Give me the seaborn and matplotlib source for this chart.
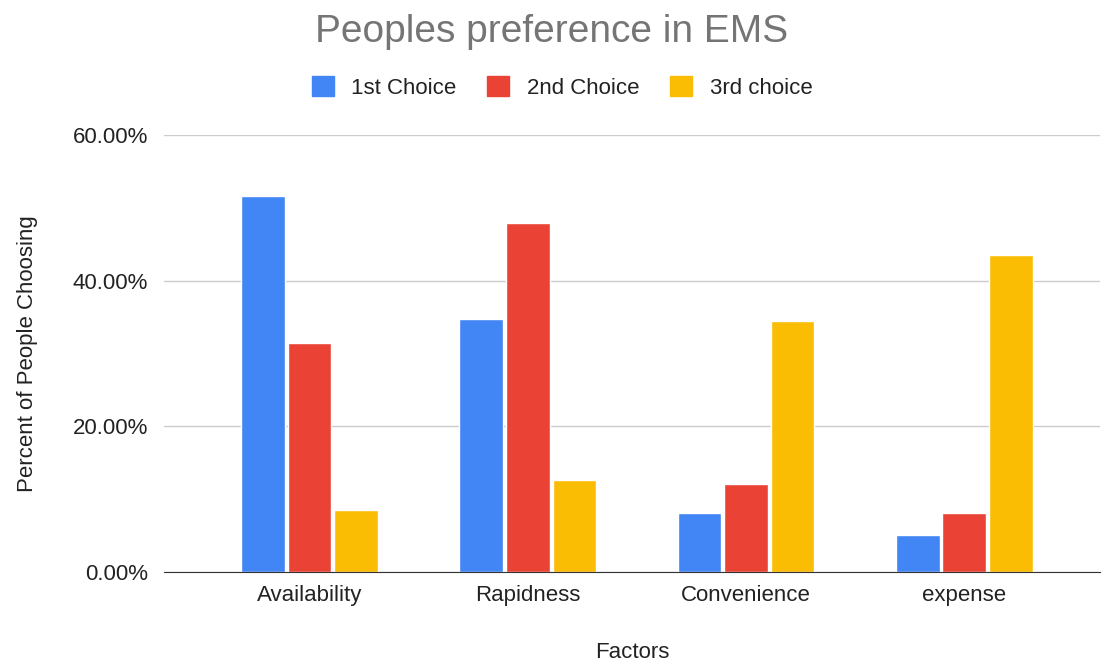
import pandas as pd
import seaborn as sns
import matplotlib.pyplot as plt
from matplotlib.ticker import FuncFormatter

factors = ['Availability', 'Rapidness', 'Convenience', 'expense']
series_names = ['1st Choice', '2nd Choice', '3rd choice']
first_choice = [51.6, 34.7, 8.1, 5.1]
second_choice = [31.4, 47.9, 12.1, 8.1]
third_choice = [8.5, 12.6, 34.5, 43.5]
colors = ['#4285F4', '#EA4335', '#FBBC04']

df = pd.DataFrame({
    'Factor': factors * 3,
    'Series': [s for s in series_names for _ in factors],
    'Value': first_choice + second_choice + third_choice,
})

sns.set_style('white')
plt.rcParams['font.family'] = ['Liberation Sans', 'DejaVu Sans']

fig = plt.figure(figsize=(11.04, 6.67), dpi=100)
ax = fig.add_axes([0.149, 0.142, 0.847, 0.656])
sns.barplot(data=df, x='Factor', y='Value', hue='Series', palette=colors,
            width=0.64, gap=0.06, ax=ax, legend=False, saturation=1)

ax.set_ylim(0, 60)
ax.set_xlim(-0.665, 3.62)
ax.set_yticks([0, 20, 40, 60])
ax.yaxis.set_major_formatter(FuncFormatter(lambda v, p: f'{v:.2f}%'))
ax.grid(axis='y', color='#cccccc', linewidth=1)
ax.set_axisbelow(True)
for s in ['top', 'right', 'left']:
    ax.spines[s].set_visible(False)
ax.spines['bottom'].set_color('#333333')
ax.tick_params(axis='both', length=0, labelsize=16, colors='#222222')
ax.tick_params(axis='x', pad=9)
ax.tick_params(axis='y', pad=12)
ax.set_xlabel('Factors', fontsize=16, color='#222222', labelpad=26)
ax.set_ylabel('Percent of People Choosing', fontsize=16, color='#222222', labelpad=25)

fig.text(0.5, 0.952, 'Peoples preference in EMS', ha='center', va='center',
         fontsize=28, color='#757575')
handles = [plt.Rectangle((0, 0), 1, 1, color=c) for c in colors]
fig.legend(handles, series_names, loc='center', bbox_to_anchor=(0.509, 0.869), ncol=3,
           frameon=False, fontsize=16, handlelength=1.0, handleheight=1.0,
           columnspacing=1.4, handletextpad=0.77, labelcolor='#222222')

fig.savefig('out.png', dpi=100)
